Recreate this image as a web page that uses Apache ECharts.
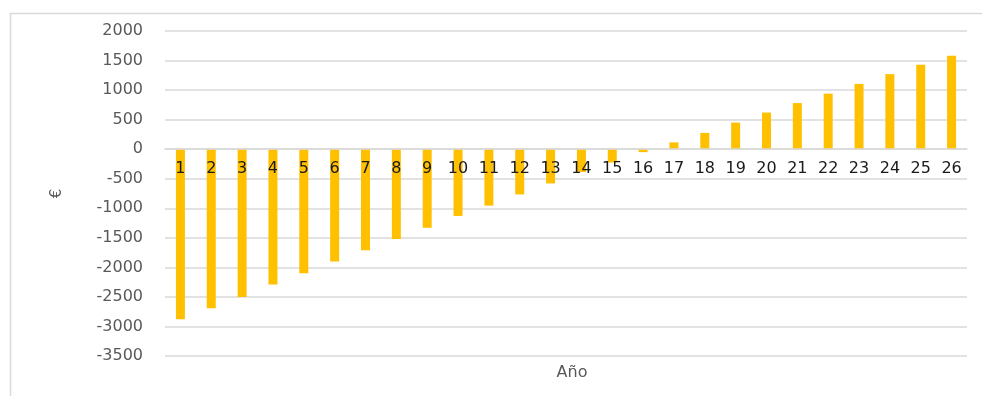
<!DOCTYPE html>
<html>
<head>
<meta charset="utf-8">
<script src="https://cdn.jsdelivr.net/npm/echarts@6/dist/echarts.min.js"></script>
<style>html,body{margin:0;padding:0;background:#fff;}#c{width:982px;height:396px;}</style>
</head>
<body>
<div id="c"></div>
<script>
const years = ['1','2','3','4','5','6','7','8','9','10','11','12','13','14','15','16','17','18','19','20','21','22','23','24','25','26'];
const values = [-2880,-2690,-2500,-2290,-2100,-1900,-1710,-1520,-1330,-1130,-955,-765,-580,-385,-225,-50,115,275,450,620,780,940,1105,1270,1430,1580];
const yMin = -3500, yMax = 2000, yStep = 500;
const xTitle = 'Año', yTitle = '€';

const W = 982, H = 396, gTop = 31, gBottom = 40;
const gridH = H - gTop - gBottom;
const zeroOffset = (0 - yMin) / (yMax - yMin) * gridH;

const chart = echarts.init(document.getElementById('c'));
chart.setOption({
  animation: false,
  title: {
    text: xTitle, left: 567, top: 360, textAlign: 'center',
    textStyle: { color: '#595959', fontSize: 16, fontWeight: 'normal', fontFamily: 'DejaVu Sans' }
  },
  graphic: [{
    type: 'rect', left: 8, top: 11, z: -1,
    shape: { width: 1000, height: 420 },
    style: { fill: 'none', stroke: '#d9d9d9', lineWidth: 1.5 }
  }],
  grid: { left: 165, right: 15, top: gTop, bottom: gBottom, containLabel: false, outerBoundsMode: 'none' },
  xAxis: {
    type: 'category', data: years, position: 'bottom', offset: -zeroOffset, z: 5,
    axisLine: { onZero: false, lineStyle: { color: '#d9d9d9', width: 1.5 } },
    axisTick: { show: false },
    axisLabel: { color: '#1a1a1a', fontSize: 16, fontFamily: 'DejaVu Sans', margin: 12, interval: 0 }
  },
  yAxis: {
    type: 'value', min: yMin, max: yMax, interval: yStep,
    name: yTitle, nameLocation: 'middle', nameGap: 100, nameRotate: 90,
    nameTextStyle: { color: '#595959', fontSize: 15, fontFamily: 'DejaVu Sans' },
    axisLine: { show: false }, axisTick: { show: false },
    axisLabel: { color: '#595959', fontSize: 16, fontFamily: 'DejaVu Sans', margin: 22, formatter: v => String(v) },
    splitLine: { lineStyle: { color: '#d9d9d9', width: 1.5 } }
  },
  series: [{
    type: 'bar', data: values, barWidth: 9,
    itemStyle: { color: '#FFC000' }
  }]
});
</script>
</body>
</html>
